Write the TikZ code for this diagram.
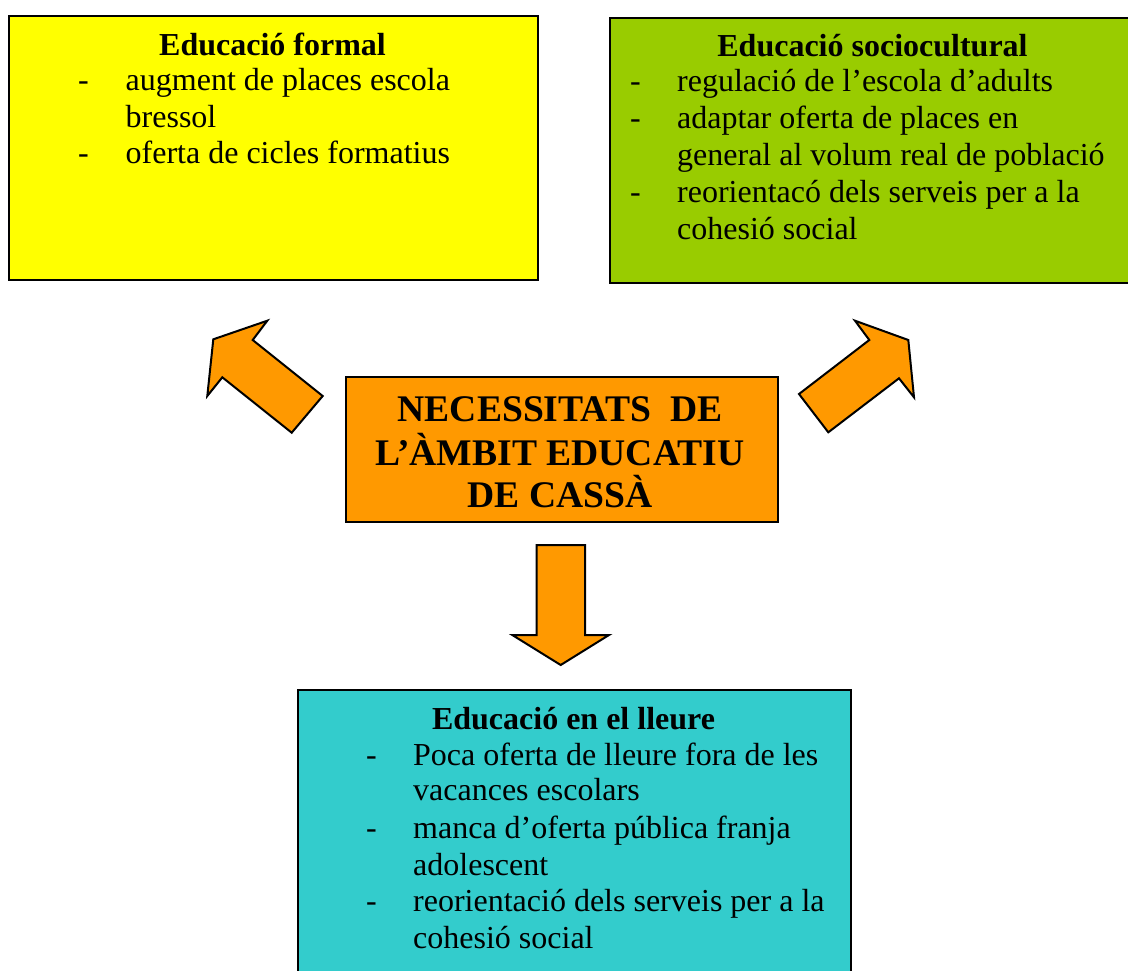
\documentclass[tikz,border=0pt]{standalone}
\usepackage{fontspec}
\setmainfont{Liberation Serif}
\definecolor{cyel}{HTML}{FFFF00}
\definecolor{cgrn}{HTML}{99CC00}
\definecolor{corg}{HTML}{FF9900}
\definecolor{ccyn}{HTML}{33CCCC}
\tikzset{
  box/.style={draw=black, line width=2pt, rectangle, inner sep=0pt, anchor=north west},
  blockarrow/.style={draw=black, line width=2pt, fill=corg, line join=miter},
  ttl/.style={anchor=base, inner sep=0pt, font=\fontsize{32}{36.8}\selectfont\bfseries},
  itm/.style={anchor=base west, inner sep=0pt, font=\fontsize{32}{36.8}\selectfont},
  big/.style={anchor=base, inner sep=0pt, font=\fontsize{37.6}{43}\selectfont\bfseries}
}
\begin{document}
\begin{tikzpicture}[x=1pt,y=-1pt]
\useasboundingbox (0,0) rectangle (1128,970);
% boxes
\node[box, fill=cyel, minimum width=529pt, minimum height=264pt] (formal) at (8,15) {};
\node[box, fill=cgrn, minimum width=530pt, minimum height=265pt] (socio) at (608.5,16.5) {};
\node[box, fill=corg, minimum width=432pt, minimum height=145pt] (center) at (345,376) {};
\node[box, fill=ccyn, minimum width=553pt, minimum height=300pt] (lleure) at (296.5,689) {};

% formal text
\node[ttl] (t1) at (272.5,55) {Educació formal};
\node[itm] (f1d) at (78,90) {-};
\node[itm] (f1) at (125.5,90) {augment de places escola};
\node[itm] (f1b) at (125.5,127) {bressol};
\node[itm] (f2d) at (78,163) {-};
\node[itm] (f2) at (125.5,163) {oferta de cicles formatius};

% sociocultural text
\node[ttl] (t2) at (872.5,56) {Educació sociocultural};
\node[itm] (s1d) at (630,91.5) {-};
\node[itm] (s1) at (677,91.5) {regulació de l’escola d’adults};
\node[itm] (s2d) at (630,128.3) {-};
\node[itm] (s2) at (677,128.3) {adaptar oferta de places en};
\node[itm] (s2b) at (677,165) {general al volum real de població};
\node[itm] (s3d) at (630,202.3) {-};
\node[itm] (s3) at (677,202.3) {reorientacó dels serveis per a la};
\node[itm] (s3b) at (677,239.5) {cohesió social};

% center text
\node[big] (c1) at (560,421.7) {NECESSITATS\ \ DE};
\node[big] (c2) at (560,465) {L’ÀMBIT EDUCATIU};
\node[big] (c3) at (560,507.5) {DE CASSÀ};

% lleure text
\node[ttl] (t3) at (573.5,729) {Educació en el lleure};
\node[itm] (l1d) at (366,765) {-};
\node[itm] (l1) at (413,765) {Poca oferta de lleure fora de les};
\node[itm] (l1b) at (413,800.7) {vacances escolars};
\node[itm] (l2d) at (366,838) {-};
\node[itm] (l2) at (413,838) {manca d’oferta pública franja};
\node[itm] (l2b) at (413,875) {adolescent};
\node[itm] (l3d) at (366,911.7) {-};
\node[itm] (l3) at (413,911.7) {reorientació dels serveis per a la};
\node[itm] (l3b) at (413,948) {cohesió social};

% block arrows
\draw[blockarrow] (291.7,432.7) -- (322.7,396) -- (252.7,340) -- (267.3,320.7)
   -- (213.3,339.3) -- (207.3,396) -- (222.3,377.3) -- cycle;
\draw[blockarrow] (799,394) -- (828.3,432.3) -- (899,378.3) -- (914,397.3)
   -- (908.3,340) -- (855,320.7) -- (869.3,340) -- cycle;
\draw[blockarrow] (536.7,545) -- (585,545) -- (585,635) -- (609,635)
   -- (560.7,665) -- (512.3,635) -- (536.7,635) -- cycle;
\end{tikzpicture}
\end{document}
